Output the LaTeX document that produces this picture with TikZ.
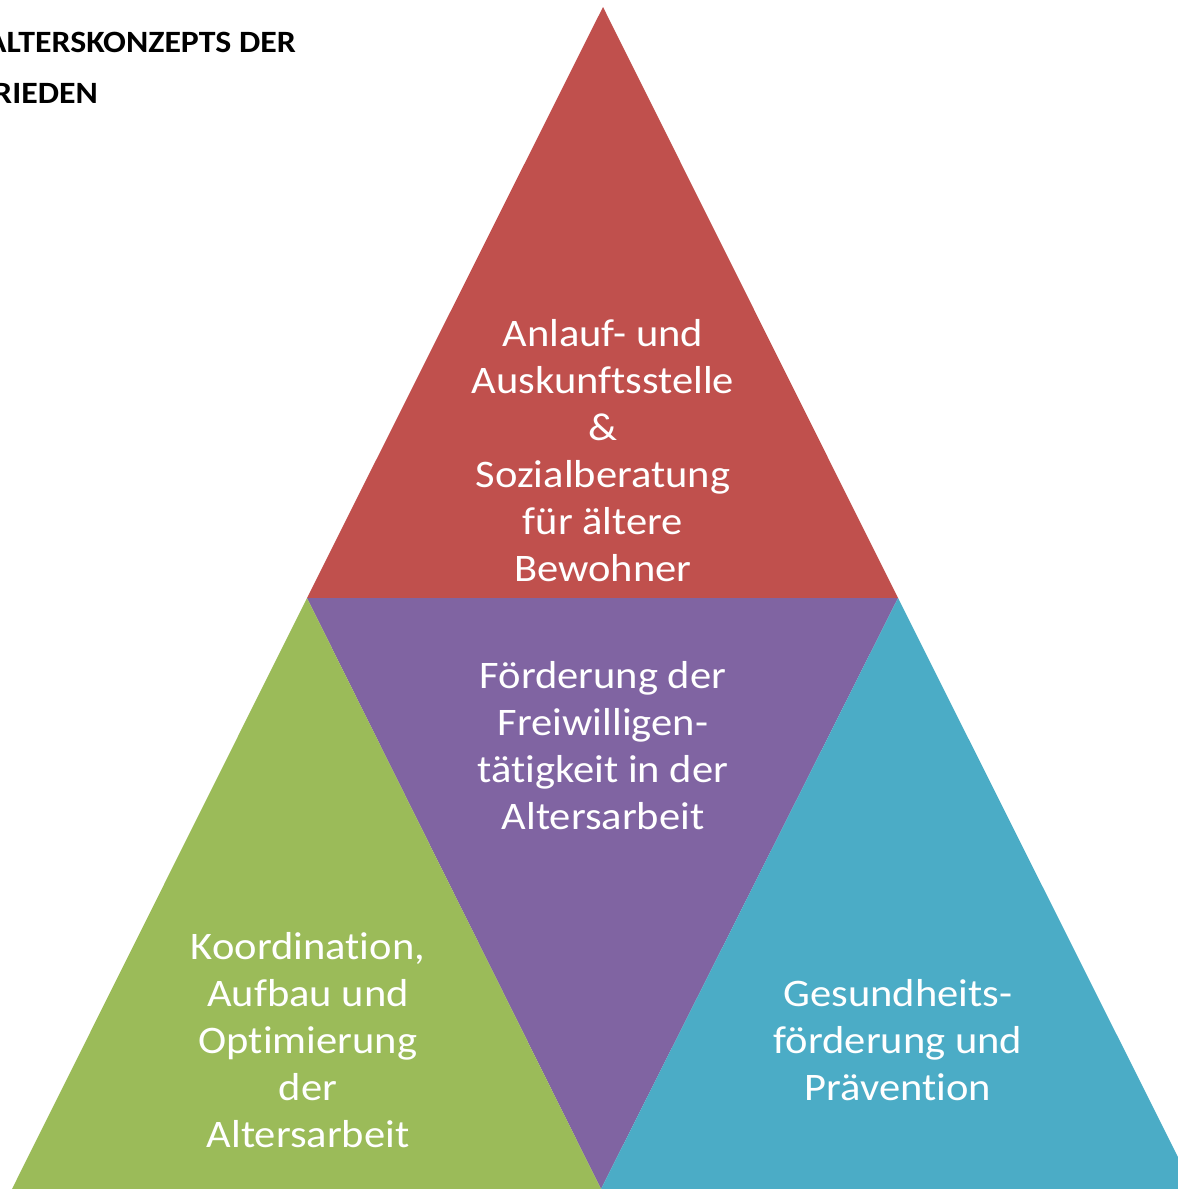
\documentclass[tikz,border=0pt]{standalone}
\usepackage{fontspec}
\setmainfont{Carlito}[FakeStretch=1.09, Ligatures={NoCommon,NoContextual}]
\definecolor{cred}{HTML}{C0504D}
\definecolor{cpurple}{HTML}{8064A2}
\definecolor{cgreen}{HTML}{9BBB59}
\definecolor{cblue}{HTML}{4BACC6}
\tikzset{
  lbl/.style={text=white, align=center, font=\fontsize{39}{47}\selectfont, inner sep=0pt},
  ttl/.style={text=black, font=\fontsize{31}{40}\selectfont\bfseries, inner sep=0pt}
}
\begin{document}
\begin{tikzpicture}[x=1pt,y=-1pt]
\useasboundingbox (0,0) rectangle (1178,1189);
\clip (0,0) rectangle (1178,1189);
\coordinate (apex) at (603,7);
\coordinate (ml) at (307,598);
\coordinate (mr) at (898,598);
\coordinate (bl) at (12,1189);
\coordinate (bm) at (601,1189);
\coordinate (br) at (1194,1189);
\fill[cred] (apex) -- (mr) -- (ml) -- cycle;
\fill[cpurple] (ml) -- (mr) -- (bm) -- cycle;
\fill[cgreen] (ml) -- (bm) -- (bl) -- cycle;
\fill[cblue] (mr) -- (br) -- (bm) -- cycle;
\node[lbl] (top) at (603,450.5) {Anlauf- und\\Auskunftsstelle\\\&\\Sozialberatung\\für ältere\\Bewohner};
\node[lbl] (mid) at (603,746) {Förderung der\\Freiwilligen-\\tätigkeit in der\\Altersarbeit};
\node[lbl] (left) at (308,1040.5) {Koordination,\\Aufbau und\\Optimierung\\der\\Altersarbeit};
\node[lbl] (right) at (898,1040.5) {Gesundheits-\\förderung und\\Prävention};
\node[ttl, anchor=base east] (t1) at (296,52) {ALTERSKONZEPTS DER};
\node[ttl, anchor=base east] (t2) at (98,103) {RIEDEN};
\end{tikzpicture}
\end{document}
